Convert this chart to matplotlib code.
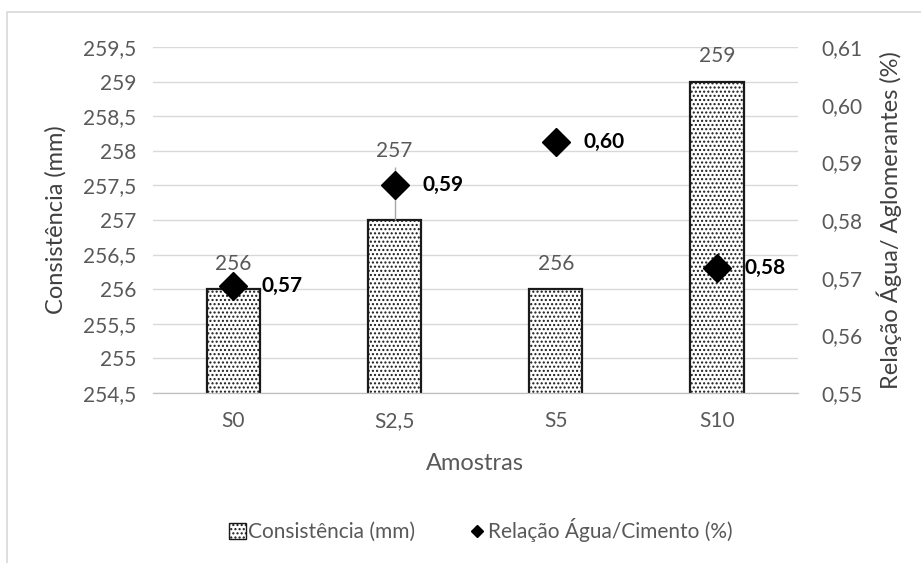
import matplotlib.pyplot as plt
import matplotlib.patches as mpatches
from matplotlib.lines import Line2D
from matplotlib.ticker import FuncFormatter
import numpy as np

plt.rcParams['font.family'] = ['Lato', 'DejaVu Sans']
plt.rcParams['hatch.color'] = '#8c8c8c'
plt.rcParams['hatch.linewidth'] = 1.0

# =========================================================
# DATA
# =========================================================
samples = ["S0", "S2,5", "S5", "S10"]
consistencia = [256, 257, 256, 259]
consistencia_err = [0, 0.77, 0, 0]
relacao = [0.5686, 0.5861, 0.5935, 0.5717]
relacao_labels = ["0,57", "0,59", "0,60", "0,58"]

GRAY = "#595959"

fig = plt.figure(figsize=(9.21, 5.63), dpi=100)
ax = fig.add_axes([0.166, 0.302, 0.700, 0.6145])
ax2 = ax.twinx()

x = np.arange(len(samples))

# bars
ax.bar(x, consistencia, width=0.33, bottom=0, color="white",
       edgecolor="#1a1a1a", linewidth=1.6, hatch="....", zorder=2)
ax.errorbar(x, consistencia, yerr=[np.zeros(len(x)), consistencia_err],
            fmt="none", ecolor="#a6a6a6", elinewidth=1.0, capsize=0, zorder=3)

for xi, v, e in zip(x, consistencia, consistencia_err):
    off = 4 if e > 0 else 11
    ax.annotate(f"{v}", (xi, v + e), xytext=(0, off), textcoords="offset points",
                ha="center", va="bottom", fontsize=15, color=GRAY,
                annotation_clip=False)

ax.set_ylim(254.5, 259.5)
ax.set_yticks(np.arange(254.5, 259.51, 0.5))
ax.yaxis.set_major_formatter(FuncFormatter(lambda v, p: f"{v:g}".replace(".", ",")))
ax.set_xlim(-0.5, 3.5)
ax.set_xticks(x)
ax.set_xticklabels(samples)
ax.grid(axis="y", color="#d9d9d9", linewidth=1.0, zorder=0)
ax.set_axisbelow(True)

# diamonds
ax2.plot(x, relacao, linestyle="none", marker="D", markersize=14.5,
         color="black", zorder=5)
for xi, v, lab in zip(x, relacao, relacao_labels):
    ax2.annotate(lab, (xi, v), xytext=(20, 0), textcoords="offset points",
                 ha="left", va="center", fontsize=15, fontweight="bold",
                 color="black")
ax2.set_ylim(0.55, 0.61)
ax2.set_yticks(np.arange(0.55, 0.6101, 0.01))
ax2.yaxis.set_major_formatter(FuncFormatter(lambda v, p: f"{v:.2f}".replace(".", ",")))

for a in (ax, ax2):
    for s in ("top", "left", "right"):
        a.spines[s].set_visible(False)
    a.spines["bottom"].set_color("#bfbfbf")
    a.tick_params(length=0, labelsize=15, colors=GRAY)
ax.tick_params(axis="y", pad=12)
ax.tick_params(axis="x", pad=13)
ax2.tick_params(axis="y", pad=17)
ax2.set_zorder(ax.get_zorder() + 1)
ax2.patch.set_visible(False)

ax.set_ylabel("Consistência (mm)", fontsize=17, color="#404040", labelpad=12)
ax2.set_ylabel("Relação Água/ Aglomerantes (%)", fontsize=17, color="#404040", labelpad=10)
ax.set_xlabel("Amostras", fontsize=17, color=GRAY, labelpad=16)

handles = [
    mpatches.Patch(facecolor="white", edgecolor="#1a1a1a", hatch="....",
                   linewidth=1.0, label="Consistência (mm)"),
    Line2D([], [], linestyle="none", marker="D", markersize=6.5, color="black",
           label="Relação Água/Cimento (%)"),
]
fig.legend(handles=handles, loc="center", bbox_to_anchor=(0.522, 0.058), ncol=2,
           frameon=False, fontsize=15, labelcolor=GRAY, handlelength=0.8,
           handleheight=0.8, handletextpad=0.1, columnspacing=2.6)

# outer chart border (left and top edges visible)
fig.lines.append(Line2D([0.0076, 0.0076, 1.0], [0.0, 0.979, 0.979],
                        transform=fig.transFigure, color="#d9d9d9", linewidth=1.2))

fig.savefig("out.png", dpi=100)
